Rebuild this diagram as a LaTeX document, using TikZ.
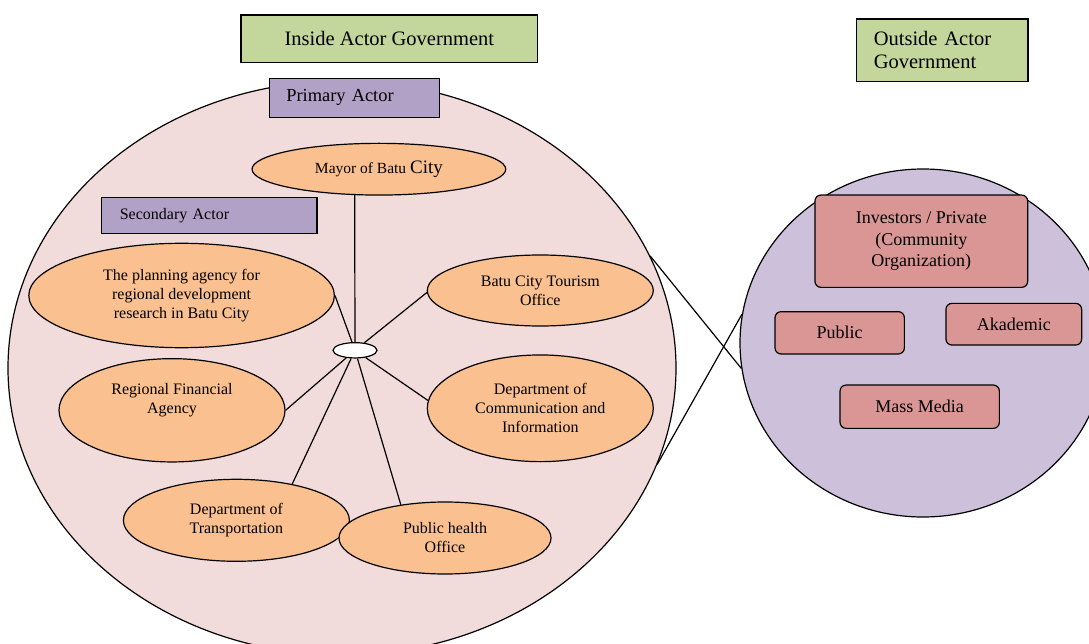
\documentclass[tikz,border=0pt]{standalone}
\usepackage{fontspec}
\setmainfont{Liberation Serif}
\usepackage{tikz}
\usetikzlibrary{shapes,positioning}
\definecolor{govGreen}{HTML}{C3D69B}
\definecolor{rolePurple}{HTML}{B2A1C7}
\definecolor{insidePink}{HTML}{F2DCDB}
\definecolor{actorOrange}{HTML}{FAC090}
\definecolor{outsideLilac}{HTML}{CCC0DA}
\definecolor{outsideRed}{HTML}{D99694}

\begin{document}
\begin{tikzpicture}[x=1pt,y=-1pt,line width=1.2pt,
  govbox/.style={draw, fill=govGreen, inner ysep=0pt},
  rolebox/.style={draw, fill=rolePurple, inner ysep=0pt, align=left},
  actor/.style={draw, ellipse, fill=actorOrange, inner sep=0pt, align=center, font=\fontsize{16}{19}\selectfont},
  outbox/.style={draw, rounded corners=6pt, fill=outsideRed, inner sep=0pt, align=center, font=\fontsize{18}{21.7}\selectfont}
]
\useasboundingbox (0,0) rectangle (1089,644);

% the two areas
\node[draw, ellipse, fill=insidePink, inner sep=0pt, minimum width=668, minimum height=574] (inside) at (342,368) {};
\node[draw, ellipse, fill=outsideLilac, inner sep=0pt, minimum width=366, minimum height=348] (outside) at (923,343) {};

% headings
\node[govbox, minimum width=296.7, minimum height=47.7, font=\fontsize{20.5}{22.7}\selectfont] (insideGov) at (389.4,38.8) {Inside Actor Government};
\node[govbox, inner xsep=17, text width=137.2, minimum height=62.7, align=left, font=\fontsize{20.5}{22.7}\selectfont] (outsideGov) at (942.4,50.3) {Outside Actor\\Government};
\node[rolebox, inner xsep=17, text width=136.3, minimum height=39, font=\fontsize{18.4}{21}\selectfont] (primary) at (354.5,97.8) {Primary Actor};
\node[rolebox, inner xsep=18, text width=179.2, minimum height=36.6, font=\fontsize{16}{19}\selectfont] (secondary) at (209.4,215.5) {Secondary Actor};

% inside actors
\node[actor, minimum width=253.7, minimum height=51.7, font=\fontsize{15.5}{19}\selectfont] (mayor) at (378.9,169.2) {Mayor of Batu {\fontsize{19}{19}\selectfont City}};
\node[actor, minimum width=305.6, minimum height=104.4] (plan) at (181.6,295.5) {The planning agency for\\regional development\\research in Batu City};
\node[actor, minimum width=226, minimum height=71] (tourism) at (540.3,290.5) {Batu City Tourism\\Office};
\node[actor, minimum width=226, minimum height=106.7] (comm) at (540.3,408.3) {Department of\\Communication and\\Information};
\node[actor, minimum width=226, minimum height=103.3] (rfa) at (172,410.3) {};
\node[align=center, inner sep=0pt, font=\fontsize{16}{19}\selectfont] (rfaText) at (172,400.3) {Regional Financial\\Agency};
\node[actor, minimum width=226, minimum height=82] (transport) at (236.4,520.3) {Department of\\Transportation};
\node[actor, minimum width=212, minimum height=72] (health) at (445,538) {Public health\\Office};
\node[draw, ellipse, fill=white, inner sep=0pt, minimum width=44, minimum height=15.3] (hub) at (355,350.3) {};

% spokes from the hub
\foreach \spoke in {mayor.227, plan.east, tourism.181, rfa.east, comm.176, transport.33, health.143}
  \draw (hub) -- (\spoke);

% outside actors
\node[outbox, minimum width=212.7, minimum height=92.3] (investors) at (921.3,241.2) {Investors / Private\\(Community\\Organization)};
\node[outbox, minimum width=129.3, minimum height=42.3] (public) at (839.7,332.8) {Public};
\node[outbox, minimum width=135.7, minimum height=41.7] (akademic) at (1013.8,324.2) {Akademic};
\node[outbox, minimum width=159.3, minimum height=43.3] (media) at (919.7,406.7) {Mass Media};

% link between inside and outside
\draw (inside.20) -- (outside.188);
\draw (inside.343) -- (outside.171);
\end{tikzpicture}
\end{document}
